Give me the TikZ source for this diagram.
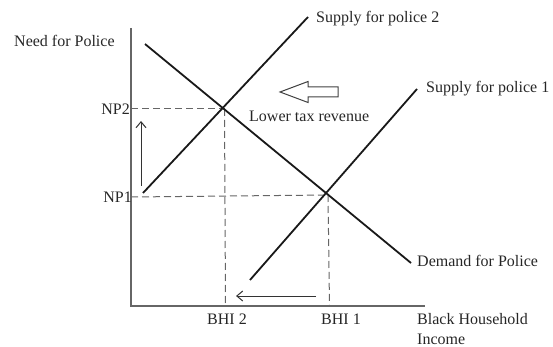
\documentclass[tikz,border=0pt]{standalone}
\usepackage{fontspec}
\setmainfont{Liberation Serif}
\usetikzlibrary{arrows.meta}
\begin{document}
\begin{tikzpicture}[x=1pt,y=-1pt,
  lbl/.style={inner sep=0pt,font=\fontsize{16}{20}\selectfont,text=black!85},
  curve/.style={line width=1.8pt,black!90},
  axis/.style={line width=1.1pt,black!60},
  guide/.style={dashed,dash pattern=on 7pt off 4pt,line width=1pt,black!60},
  move/.style={line width=1pt,black!80,-{Straight Barb[length=6pt,width=10pt]}}]
\useasboundingbox (0,0) rectangle (553,347);
% axes
\coordinate (ytop) at (131,28);
\coordinate (origin) at (131,306);
\coordinate (xend) at (425,306);
\draw[axis] (ytop) -- (origin) -- (xend);
% curves
\coordinate (d1) at (145,44);
\coordinate (d2) at (411,263);
\coordinate (s2a) at (143,193);
\coordinate (s2b) at (308,17);
\coordinate (s1a) at (250,280);
\coordinate (s1b) at (417,89);
\coordinate (e2) at (224.5,109);
\coordinate (e1) at (328,195);
% dashed guides
\coordinate (np2) at (131,109);
\coordinate (np1) at (131,197);
\coordinate (b2) at (225.5,306);
\coordinate (b1) at (329.5,306);
\draw[guide] (np2) -- (e2);
\draw[guide] (np1) -- (e1);
\draw[guide] (e2) -- (b2);
\draw[guide] (e1) -- (b1);
\draw[curve] (d1) -- (d2);
\draw[curve] (s2a) -- (s2b);
\draw[curve] (s1a) -- (s1b);
% movement arrows
\coordinate (upa) at (141,186);
\coordinate (upb) at (141,121);
\draw[move] (upa) -- (upb);
\coordinate (lfa) at (316,296);
\coordinate (lfb) at (236,296);
\draw[move] (lfa) -- (lfb);
% block arrow
\coordinate (tip) at (280,92);
\draw[line width=1pt,black!75] (tip) -- ++(28,-10.5) -- ++(0,5.5) -- ++(30,0) -- ++(0,10) -- ++(-30,0) -- ++(0,5.5) -- cycle;
% labels
\node[lbl,anchor=base west] (need) at (14,47) {Need for Police};
\node[lbl,anchor=base east] (lnp2) at (130,115) {NP2};
\node[lbl,anchor=base east] (lnp1) at (132,203) {NP1};
\node[lbl,anchor=base west] (tax) at (249,122) {Lower tax revenue};
\node[lbl,anchor=base west] (sp2) at (316,23) {Supply for police 2};
\node[lbl,anchor=base west] (sp1) at (426,93) {Supply for police 1};
\node[lbl,anchor=base west] (dem) at (417,266) {Demand for Police};
\node[lbl,anchor=base] (lb2) at (227,324) {BHI 2};
\node[lbl,anchor=base] (lb1) at (341,324) {BHI 1};
\node[lbl,anchor=base west] (bhi) at (417,324) {Black Household};
\node[lbl,anchor=base west] (inc) at (417,344) {Income};
\end{tikzpicture}
\end{document}
